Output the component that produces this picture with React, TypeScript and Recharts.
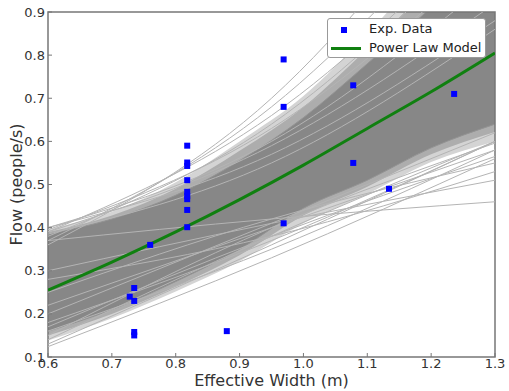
import React from 'react';
import { ComposedChart, Line, Area, Scatter, XAxis, YAxis, ReferenceArea, Label } from 'recharts';

// Fitted model curve
const fitWidth = [0.6, 0.7, 0.8, 0.9, 1.0, 1.1, 1.2, 1.3];
const modelFlow = [0.255, 0.32, 0.39, 0.465, 0.545, 0.63, 0.715, 0.805];
// Dense envelope of the sampled curves
const coreLow = [0.16, 0.21, 0.275, 0.35, 0.445, 0.51, 0.585, 0.64];
const coreHigh = [0.385, 0.42, 0.475, 0.555, 0.655, 0.78, 0.91, 1.045];
// Medium envelope
const midLow = [0.15, 0.2, 0.263, 0.336, 0.428, 0.495, 0.57, 0.622];
const midHigh = [0.39, 0.428, 0.49, 0.578, 0.68, 0.815, 0.96, 1.1];
// Lighter outer envelope
const haloLow = [0.138, 0.19, 0.252, 0.322, 0.41, 0.478, 0.552, 0.6];
const haloHigh = [0.397, 0.437, 0.505, 0.6, 0.705, 0.85, 1.01, 1.16];
// Sparse outlying sample curves, values at fringeWidth
const fringeWidth = [0.6, 0.95, 1.3];
const upperFringe = [
  [0.4, 0.6, 0.98],
  [0.395, 0.63, 1.05],
  [0.39, 0.66, 1.12],
  [0.39, 0.59, 0.92],
  [0.38, 0.64, 1.1],
  [0.37, 0.68, 1.2],
  [0.36, 0.7, 1.3],
  [0.385, 0.55, 0.86],
  [0.4, 0.57, 0.88],
];
const lowerFringe = [
  [0.124, 0.33, 0.56],
  [0.13, 0.36, 0.6],
  [0.14, 0.38, 0.6],
  [0.37, 0.42, 0.46],
  [0.3, 0.41, 0.51],
  [0.25, 0.42, 0.55],
  [0.17, 0.38, 0.565],
  [0.15, 0.4, 0.596],
  [0.22, 0.4, 0.58],
  [0.2, 0.41, 0.62],
  [0.16, 0.35, 0.58],
  [0.18, 0.37, 0.6],
  [0.28, 0.38, 0.53],
];
// Experimental data
const expWidth = [0.728, 0.735, 0.735, 0.735, 0.735, 0.76, 0.818, 0.818, 0.818, 0.818, 0.818, 0.818, 0.818, 0.818, 0.818, 0.88, 0.969, 0.969, 0.969, 1.078, 1.078, 1.134, 1.236];
const expFlow = [0.24, 0.26, 0.23, 0.158, 0.15, 0.36, 0.59, 0.551, 0.543, 0.51, 0.483, 0.473, 0.466, 0.441, 0.401, 0.16, 0.79, 0.68, 0.41, 0.73, 0.55, 0.49, 0.71];

const xTicks = [0.6, 0.7, 0.8, 0.9, 1.0, 1.1, 1.2, 1.3];
const yTicks = [0.1, 0.2, 0.3, 0.4, 0.5, 0.6, 0.7, 0.8, 0.9];

const bandData = fitWidth.map((w, i) => ({
  w,
  core: [coreLow[i], coreHigh[i]],
  mid: [midLow[i], midHigh[i]],
  halo: [haloLow[i], haloHigh[i]],
  model: modelFlow[i],
}));
const fringeData = [...upperFringe, ...lowerFringe].map((vals) =>
  fringeWidth.map((w, i) => ({ w, f: vals[i] }))
);
const expData = expWidth.map((w, i) => ({ w, f: expFlow[i] }));

const FONT = '"DejaVu Sans", sans-serif';
const TICK_COLOR = '#777';

const Square = (p: any) => (
  <rect x={p.cx - 3} y={p.cy - 3} width={6} height={6} fill="#0000ff" />
);

const BottomTick = (p: any) => {
  const axisY = p.y - 2;
  return (
    <g>
      <line x1={p.x} x2={p.x} y1={axisY} y2={axisY - 4} stroke={TICK_COLOR} strokeWidth={1} />
      <text x={p.x} y={p.y} dy="0.71em" textAnchor="middle" fill="#333" fontSize={13} fontFamily={FONT}>
        {Number(p.payload.value).toFixed(1)}
      </text>
    </g>
  );
};

const LeftTick = (p: any) => {
  const axisX = p.x + 3;
  return (
    <g>
      <line x1={axisX} x2={axisX + 4} y1={p.y} y2={p.y} stroke={TICK_COLOR} strokeWidth={1} />
      <text x={p.x} y={p.y} dy="0.355em" textAnchor="end" fill="#333" fontSize={13} fontFamily={FONT}>
        {Number(p.payload.value).toFixed(1)}
      </text>
    </g>
  );
};

const TopTick = (p: any) => (
  <line x1={p.x} x2={p.x} y1={12} y2={16} stroke={TICK_COLOR} strokeWidth={1} />
);

const RightTick = (p: any) => (
  <line x1={495} x2={491} y1={p.y} y2={p.y} stroke={TICK_COLOR} strokeWidth={1} />
);

export default function App() {
  return (
    <div style={{ position: 'absolute', left: 0, top: 0, width: 509, height: 391, background: '#fff' }}>
      <ComposedChart width={509} height={391} margin={{ top: 12, right: 14, bottom: 0, left: 0 }}>
        <XAxis
          dataKey="w"
          type="number"
          domain={[0.6, 1.3]}
          ticks={xTicks}
          allowDataOverflow
          axisLine={false}
          tickLine={false}
          tickSize={0}
          tickMargin={2}
          height={34}
          tick={<BottomTick />}
          interval={0}
        >
          <Label
            content={(props: any) => {
              const vb = props.viewBox || { x: 48, y: 357, width: 447, height: 34 };
              return (
                <text x={vb.x + vb.width / 2} y={vb.y + 23} textAnchor="middle" dominantBaseline="central" fill="#333" fontSize={16} fontFamily={FONT}>
                  Effective Width (m)
                </text>
              );
            }}
          />
        </XAxis>
        <XAxis
          xAxisId="top"
          orientation="top"
          dataKey="w"
          type="number"
          domain={[0.6, 1.3]}
          ticks={xTicks}
          allowDataOverflow
          axisLine={false}
          tickLine={false}
          tickSize={0}
          height={0}
          tick={<TopTick />}
          interval={0}
        />
        <YAxis
          type="number"
          domain={[0.1, 0.9]}
          ticks={yTicks}
          allowDataOverflow
          axisLine={false}
          tickLine={false}
          tickSize={0}
          tickMargin={3}
          width={48}
          tick={<LeftTick />}
          interval={0}
        >
          <Label
            content={(props: any) => {
              const vb = props.viewBox || { x: 0, y: 12, width: 48, height: 345 };
              const cx = vb.x + 16;
              const cy = vb.y + vb.height / 2;
              return (
                <text x={cx} y={cy} transform={`rotate(-90 ${cx} ${cy})`} textAnchor="middle" dominantBaseline="central" fill="#333" fontSize={16} fontFamily={FONT}>
                  Flow (people/s)
                </text>
              );
            }}
          />
        </YAxis>
        <YAxis
          yAxisId="right"
          orientation="right"
          type="number"
          domain={[0.1, 0.9]}
          ticks={yTicks}
          allowDataOverflow
          axisLine={false}
          tickLine={false}
          tickSize={0}
          width={0}
          tick={<RightTick />}
          interval={0}
        />
        <Area data={bandData} dataKey="halo" type="monotone" stroke="none" fill="#d4d4d4" fillOpacity={1} isAnimationActive={false} />
        <Area data={bandData} dataKey="mid" type="monotone" stroke="none" fill="#adadad" fillOpacity={1} isAnimationActive={false} />
        {fringeData.map((d, i) => (
          <Line key={'f' + i} data={d} dataKey="f" type="monotone" stroke="#b4b4b4" strokeWidth={1} dot={false} activeDot={false} isAnimationActive={false} />
        ))}
        <Area data={bandData} dataKey="core" type="monotone" stroke="#939393" strokeWidth={1} fill="#878787" fillOpacity={1} isAnimationActive={false} />
        <Line data={bandData} dataKey="model" type="monotone" stroke="#108010" strokeWidth={3} dot={false} activeDot={false} isAnimationActive={false} />
        <Scatter data={expData} dataKey="f" shape={Square} isAnimationActive={false} />
        <ReferenceArea x1={0.6} x2={1.3} y1={0.1} y2={0.9} fill="none" stroke="#777" strokeWidth={1.5} />
      </ComposedChart>
      <div
        style={{
          position: 'absolute',
          left: 327,
          top: 18,
          width: 157,
          height: 38,
          border: '1px solid #999',
          borderRadius: 3,
          background: '#fff',
          fontFamily: FONT,
          fontSize: 13,
          color: '#222',
        }}
      >
        <div style={{ position: 'absolute', left: 13, top: 8, width: 6, height: 6, background: '#0000ff' }} />
        <div style={{ position: 'absolute', left: 41, top: 2, lineHeight: '16px' }}>Exp. Data</div>
        <div style={{ position: 'absolute', left: 3, top: 28, width: 30, height: 3, background: '#108010' }} />
        <div style={{ position: 'absolute', left: 41, top: 21, lineHeight: '16px' }}>Power Law Model</div>
      </div>
    </div>
  );
}
